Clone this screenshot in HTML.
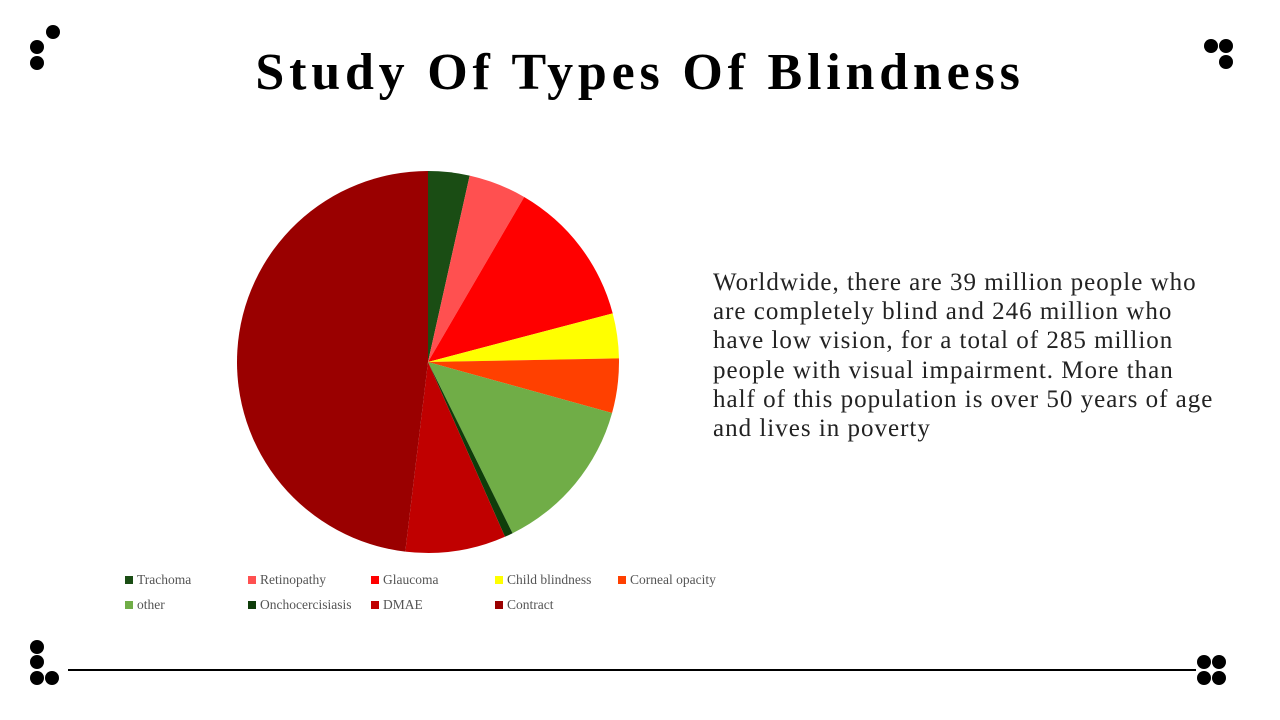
<!DOCTYPE html>
<html><head><meta charset="utf-8"><style>
body{margin:0;width:1280px;height:720px;background:#fff;position:relative;overflow:hidden;font-family:"Liberation Serif",serif}
.dot{position:absolute;width:14px;height:14px;border-radius:50%;background:#000}
#title{position:absolute;left:0;width:1280px;top:43px;text-align:center;font-size:52px;letter-spacing:4.8px;font-weight:bold;color:#000}
#para{position:absolute;left:713px;top:268px;width:505px;font-size:25px;letter-spacing:1px;line-height:29.2px;color:#222}
.leg{position:absolute;font-size:13.5px;color:#555;white-space:nowrap}
.leg i{display:inline-block;width:8px;height:8px;margin-right:4px;vertical-align:0}
</style></head><body>
<div>
<div class="dot" style="left:46px;top:25px"></div><div class="dot" style="left:30px;top:40px"></div><div class="dot" style="left:30px;top:56px"></div></div>
<div>
<div class="dot" style="left:30px;top:640px"></div><div class="dot" style="left:30px;top:655px"></div><div class="dot" style="left:30px;top:671px"></div><div class="dot" style="left:45px;top:671px"></div></div>
<div>
<div class="dot" style="left:1204px;top:39px"></div><div class="dot" style="left:1219px;top:39px"></div><div class="dot" style="left:1219px;top:55px"></div></div>
<div>
<div class="dot" style="left:1197px;top:655px"></div><div class="dot" style="left:1212px;top:655px"></div><div class="dot" style="left:1197px;top:671px"></div><div class="dot" style="left:1212px;top:671px"></div></div>
<div style="position:absolute;left:68px;top:669px;width:1128px;height:2px;background:#000"></div>
<div id="title">Study Of Types Of Blindness</div>
<div id="para">Worldwide, there are 39 million people who are completely blind and 246 million who have low vision, for a total of 285 million people with visual impairment. More than half of this population is over 50 years of age and lives in poverty</div>
<svg id="pie" width="1280" height="720" style="position:absolute;left:0;top:0"></svg>
<div id="legend"></div>
<script>
const categories=["Trachoma","Retinopathy","Glaucoma","Child blindness","Corneal opacity","other","Onchocercisiasis","DMAE","Contract"];
const values=[3.5,4.9,12.5,3.8,4.6,13.4,0.7,8.5,48.1];
const colors=["#1a4d14","#ff5050","#ff0000","#ffff00","#ff4000","#70ad47","#0f3d0a","#c00000","#9a0000"];
const cx=428,cy=362,r=191;
const svg=document.getElementById('pie');
const total=values.reduce((a,b)=>a+b,0);
let acc=0;
function pt(f){const a=f*2*Math.PI;return [cx+r*Math.sin(a),cy-r*Math.cos(a)];}
values.forEach((v,i)=>{
  const f0=acc/total;acc+=v;const f1=acc/total;
  const [x0,y0]=pt(f0),[x1,y1]=pt(f1);
  const p=document.createElementNS('http://www.w3.org/2000/svg','path');
  p.setAttribute('d',`M${cx},${cy}L${x0},${y0}A${r},${r} 0 ${f1-f0>0.5?1:0} 1 ${x1},${y1}Z`);
  p.setAttribute('fill',colors[i]);
  
  
  svg.appendChild(p);
});
const leg=document.getElementById('legend');
const colX=[125,248,371,495,618];
categories.forEach((c,i)=>{
  const d=document.createElement('div');d.className='leg';
  
  
  d.style.left=colX[i%5]+'px';d.style.top=(i<5?572:597)+'px';
  d.innerHTML=`<i style="background:${colors[i]}"></i>${c}`;
  leg.appendChild(d);
});
</script>
</body></html>
